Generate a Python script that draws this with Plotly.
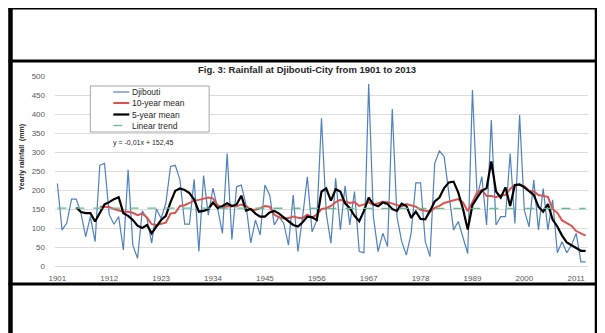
import plotly.graph_objects as go

years = list(range(1901, 2014))

djibouti = [
    217, 95, 113, 176, 176, 139, 77, 130, 64, 265,
    270, 135, 110, 130, 42, 253, 55, 20, 145, 125,
    60, 150, 125, 165, 262, 265, 226, 110, 110, 228,
    38, 238, 134, 205, 150, 86, 296, 70, 209, 213,
    160, 61, 121, 82, 213, 187, 108, 130, 112, 55,
    187, 38, 130, 235, 90, 120, 389, 139, 60, 231,
    95, 211, 108, 196, 38, 35, 479, 130, 38, 86,
    51, 413, 130, 64, 29, 86, 219, 219, 64, 25,
    270, 303, 288, 190, 95, 117, 77, 33, 463, 182,
    235, 108, 384, 108, 130, 130, 296, 112, 397, 147,
    103, 226, 95, 204, 95, 174, 35, 64, 35, 55,
    86, 11, 11,
]

mean5_years = list(range(1905, 2014))
mean5 = [
    154, 142, 139, 139, 117, 139, 162, 168, 176, 181,
    139, 132, 121, 106, 100, 108, 86, 104, 121, 132,
    168, 198, 204, 200, 192, 175, 143, 145, 150, 167,
    152, 158, 165, 158, 162, 185, 146, 150, 138, 130,
    130, 141, 145, 138, 128, 117, 108, 104, 115, 130,
    128, 121, 196, 204, 172, 202, 196, 165, 152, 132,
    118, 145, 180, 162, 157, 167, 163, 150, 145, 164,
    158, 127, 143, 124, 123, 145, 170, 180, 205, 220,
    222, 193, 150, 96, 160, 180, 198, 205, 275, 196,
    180, 207, 158, 213, 215, 207, 196, 187, 156, 143,
    163, 122, 104, 80, 62, 55, 48, 40, 40,
]

mean10_years = list(range(1910, 2014))
mean10 = [
    156, 156, 155, 150, 146, 143, 143, 140, 134, 138,
    128, 110, 108, 112, 114, 138, 140, 158, 160, 166,
    172, 174, 177, 180, 178, 160, 153, 158, 157, 157,
    162, 158, 148, 148, 152, 158, 156, 135, 128, 125,
    126, 130, 127, 126, 135, 128, 135, 150, 152, 158,
    168, 174, 170, 166, 168, 158, 162, 168, 161, 166,
    169, 168, 165, 160, 157, 163, 160, 156, 148, 145,
    143, 153, 158, 166, 170, 174, 176, 167, 145, 168,
    194, 200, 184, 184, 181, 186, 187, 203, 213, 213,
    210, 198, 196, 187, 184, 182, 150, 140, 120, 113,
    106, 92, 85, 80,
]

trend_years = [1901, 2013]
trend_values = [152.44, 151.33]

x_tick_vals = [1901, 1912, 1923, 1934, 1945, 1956, 1967, 1978, 1989, 2000, 2011]
y_tick_vals = [0, 50, 100, 150, 200, 250, 300, 350, 400, 450, 500]

title_text = "Fig. 3: Rainfall at Djibouti-City from 1901 to 2013"
y_title = "Yearly rainfall  (mm)"
equation = "y = -0,01x + 152,45"
legend_names = ["Djibouti", "10-year mean", "5-year mean", "Linear trend"]

# the page body adds an 8px offset; figure is sized to fill the rest of the window
OFF = 8
W, H = 597, 325
ML, MR, MT, MB = 54.6 - OFF, 16.5, 76 - OFF, 67
PW, PH = W - ML - MR, H - MT - MB


def px(x):
    """screen x (pixels) -> paper"""
    return (x - OFF - ML) / PW


def py(y):
    """screen y (pixels) -> paper"""
    return (H - MB - (y - OFF)) / PH


BLUE = "#4f81bd"
RED = "#d9534f"
BLACK = "#000000"
GREEN = "#5fbf8f"
FONT = "Liberation Sans"

fig = go.Figure()
fig.add_trace(go.Scatter(x=years, y=djibouti, mode="lines",
                         line=dict(color=BLUE, width=1.2), name=legend_names[0]))
fig.add_trace(go.Scatter(x=mean10_years, y=mean10, mode="lines",
                         line=dict(color=RED, width=2), name=legend_names[1]))
fig.add_trace(go.Scatter(x=mean5_years, y=mean5, mode="lines",
                         line=dict(color=BLACK, width=2.2), name=legend_names[2]))
fig.add_trace(go.Scatter(x=trend_years, y=trend_values, mode="lines",
                         line=dict(color=GREEN, width=1.3, dash="dash"), name=legend_names[3]))

shapes = []
frame = dict(type="line", xref="paper", yref="paper")
shapes.append({**frame, "x0": px(10), "x1": px(10), "y0": py(5), "y1": py(340),
               "line": dict(color="black", width=4.5)})
shapes.append({**frame, "x0": px(597.5), "x1": px(597.5), "y0": py(5), "y1": py(340),
               "line": dict(color="black", width=4.5)})
shapes.append({**frame, "x0": px(8), "x1": px(600), "y0": py(7.5), "y1": py(7.5),
               "line": dict(color="black", width=4)})
shapes.append({**frame, "x0": px(8), "x1": px(600), "y0": py(61), "y1": py(61),
               "line": dict(color="black", width=3)})
shapes.append({**frame, "x0": px(8), "x1": px(600), "y0": py(284), "y1": py(284),
               "line": dict(color="black", width=3)})

# legend box
shapes.append(dict(type="rect", xref="paper", yref="paper",
                   x0=px(90), x1=px(209), y0=py(86), y1=py(132),
                   line=dict(color="#a6a6a6", width=1), fillcolor="white", layer="above"))
legend_colors = [BLUE, RED, BLACK, GREEN]
legend_widths = [1.2, 2, 2.2, 1.3]
legend_dash = ["solid", "solid", "solid", "dash"]
legend_y = [92, 103, 114.5, 125.5]
annotations = []
for name, c, w, d, ly in zip(legend_names, legend_colors, legend_widths, legend_dash, legend_y):
    shapes.append(dict(type="line", xref="paper", yref="paper",
                       x0=px(113), x1=px(129), y0=py(ly), y1=py(ly),
                       line=dict(color=c, width=w, dash=d), layer="above"))
    annotations.append(dict(xref="paper", yref="paper", x=px(130), y=py(ly),
                            xanchor="left", yanchor="middle", showarrow=False,
                            text=name, font=dict(family=FONT, size=8.5, color="#262626")))

annotations.append(dict(xref="paper", yref="paper", x=px(143), y=py(143),
                        xanchor="center", yanchor="middle", showarrow=False,
                        text=equation, font=dict(family=FONT, size=7, color="#262626")))
annotations.append(dict(xref="paper", yref="paper", x=px(307), y=py(69.5),
                        xanchor="center", yanchor="middle", showarrow=False,
                        text="<b>" + title_text + "</b>",
                        font=dict(family=FONT, size=9.5, color="#262626")))
annotations.append(dict(xref="paper", yref="paper", x=px(22), y=py(157),
                        xanchor="center", yanchor="middle", showarrow=False, textangle=-90,
                        text="<b>" + y_title + "</b>",
                        font=dict(family=FONT, size=7, color="#262626")))

fig.update_layout(
    width=W, height=H,
    margin=dict(l=ML, r=MR, t=MT, b=MB, pad=0),
    paper_bgcolor="white", plot_bgcolor="white",
    showlegend=False,
    shapes=shapes, annotations=annotations,
    xaxis=dict(range=[1900.5, 2013.5], tickmode="array", tickvals=x_tick_vals,
               ticktext=[str(v) for v in x_tick_vals], showgrid=False, zeroline=False,
               showline=True, linecolor="#d9d9d9", linewidth=1, ticks="",
               tickfont=dict(family=FONT, size=8, color="#595959"), ticklabelstandoff=4),
    yaxis=dict(range=[0, 500], tickmode="array", tickvals=y_tick_vals,
               showgrid=True, gridcolor="#dcdcdc", gridwidth=1, zeroline=False,
               showline=False, ticks="",
               tickfont=dict(family=FONT, size=8, color="#595959"), ticklabelstandoff=9),
)

fig.write_html("out.html")
